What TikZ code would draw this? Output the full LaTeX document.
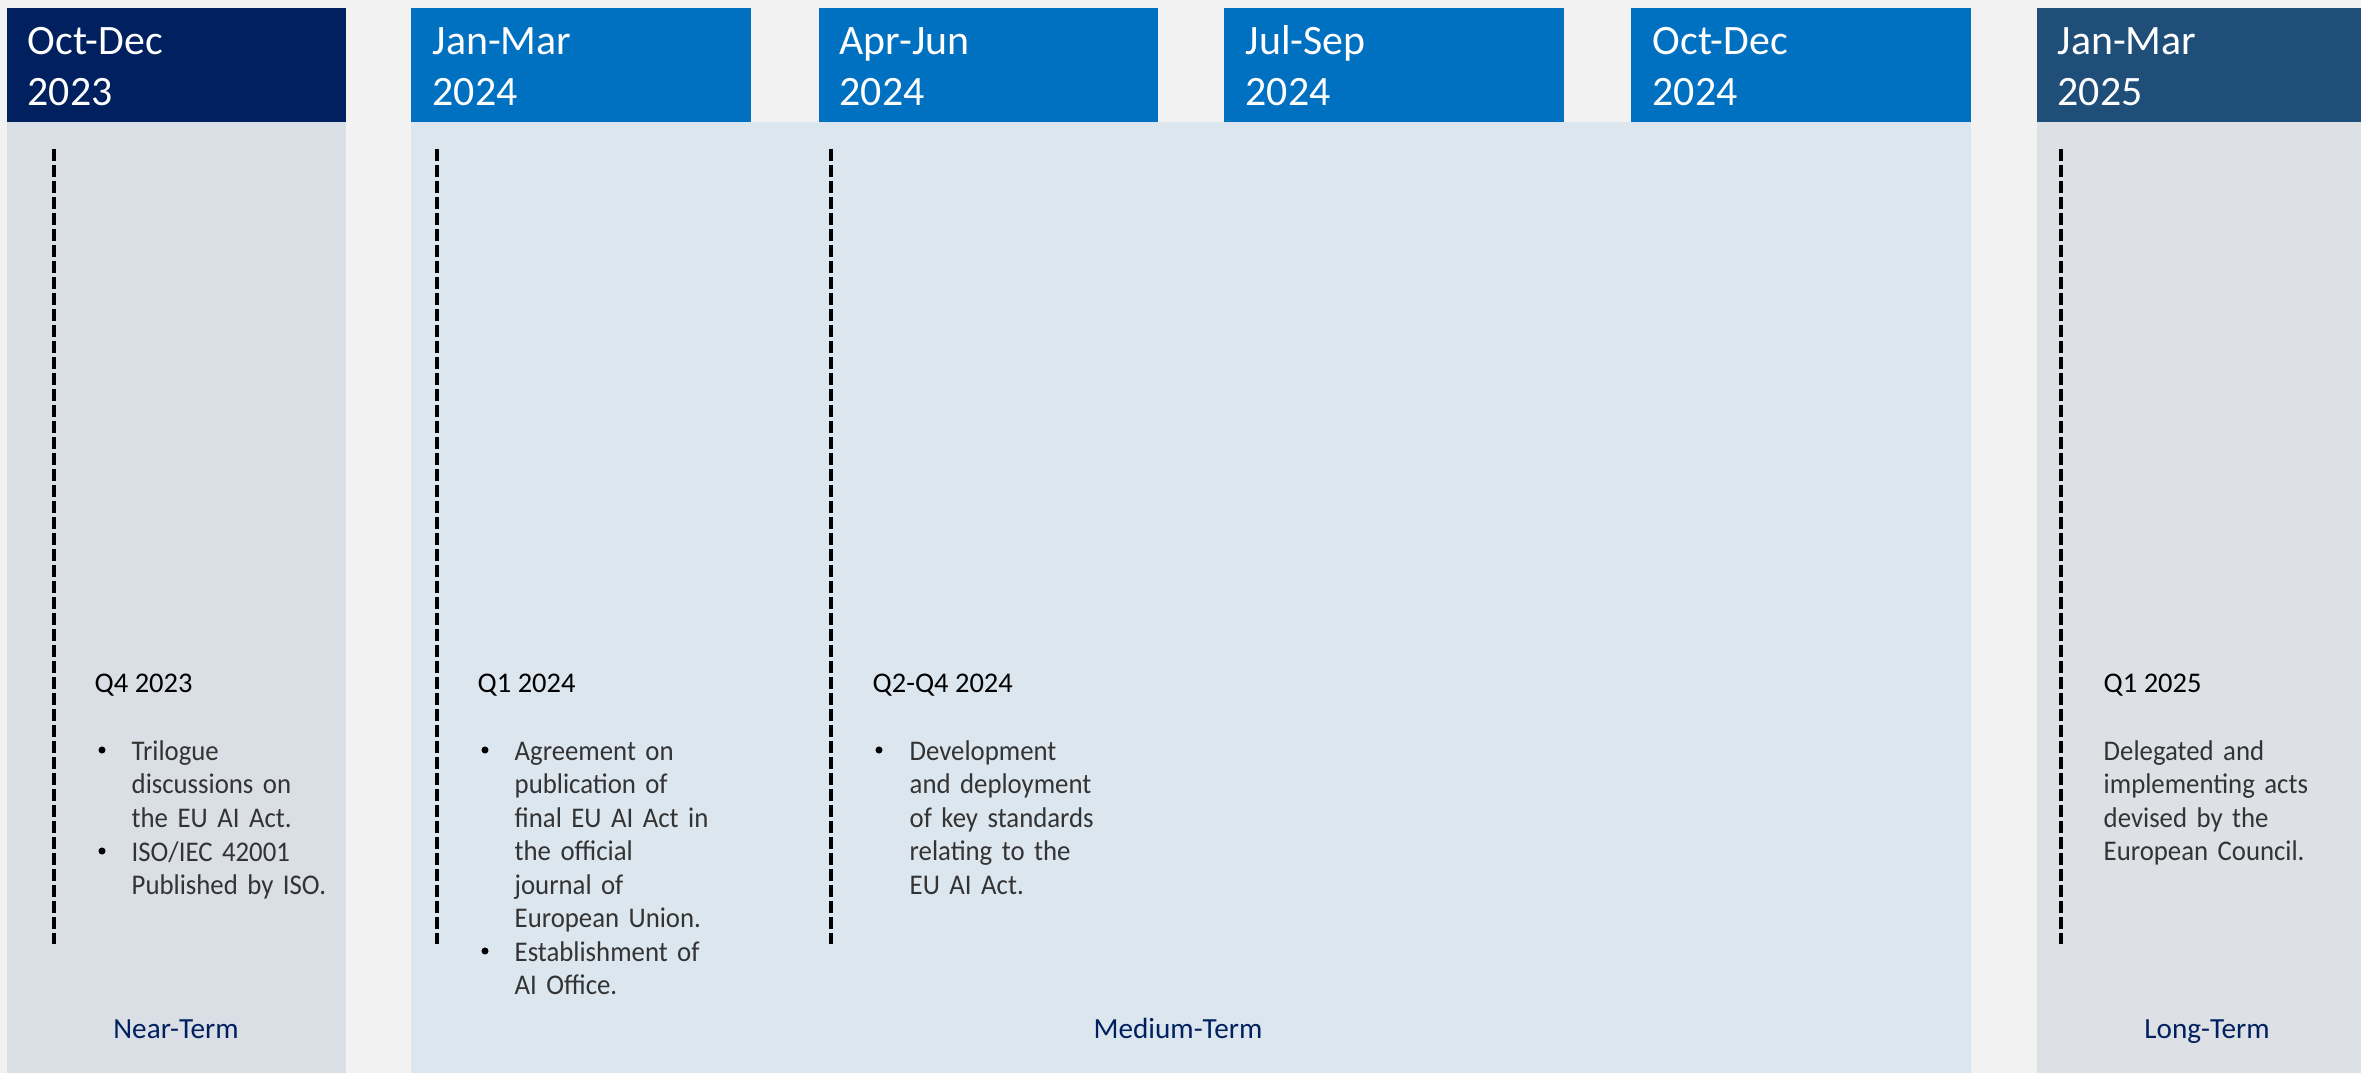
\documentclass[tikz,border=0pt]{standalone}
\usepackage{fontspec}
\setmainfont{Carlito}
\newfontfamily\bodyfont{Carlito}[FakeStretch=0.94]
\definecolor{navy}{HTML}{002060}
\definecolor{qblue}{HTML}{0070C0}
\definecolor{slate}{HTML}{1F4E79}
\definecolor{pnear}{HTML}{DADEE5}
\definecolor{pmed}{HTML}{DCE6EF}
\definecolor{plong}{HTML}{DDE0E5}
\definecolor{paper}{HTML}{F2F2F2}
\begin{document}
\begin{tikzpicture}[x=0.01cm, y=-0.01cm, line join=round,
	hd/.style={anchor=base west, inner sep=0pt, text=white, font=\fontsize{11.9}{14}\selectfont},
	qt/.style={anchor=base west, inner sep=0pt, text=black, font=\fontsize{8.1}{9.5}\selectfont},
	bd/.style={anchor=base west, inner sep=0pt, text width=4cm, align=left, text=black!80, font=\bodyfont\fontsize{8.1}{9.53}\selectfont},
	bul/.style={circle, fill=black, inner sep=0pt, minimum size=2pt},
	term/.style={anchor=base, inner sep=0pt, text=navy, font=\fontsize{8.3}{9.5}\selectfont},
	tl/.style={line width=1.1pt, dash pattern=on 3.4pt off 1.15pt}]
	\def\ytop{8} \def\ymid{122} \def\ybot{1073}
	\fill[paper] (0,0) rectangle (2361,1073);
	\useasboundingbox (0,0) rectangle (2361,1073);
	%panels
	\fill[pnear] (7,\ymid) rectangle (346,\ybot);
	\fill[pmed] (411,\ymid) rectangle (1971,\ybot);
	\fill[plong] (2037,\ymid) rectangle (2361,\ybot);
	%headers
	\fill[navy] (7,\ytop) rectangle (346,\ymid);
	\fill[qblue] (411,\ytop) rectangle (751,\ymid);
	\fill[qblue] (819,\ytop) rectangle (1158,\ymid);
	\fill[qblue] (1224,\ytop) rectangle (1564,\ymid);
	\fill[qblue] (1631,\ytop) rectangle (1971,\ymid);
	\fill[slate] (2037,\ytop) rectangle (2361,\ymid);
	\node[hd] (m1) at (27,55) {Oct-Dec};   \node[hd] (y1) at (27,106) {2023};
	\node[hd] (m2) at (432,55) {Jan-Mar};  \node[hd] (y2) at (432,106) {2024};
	\node[hd] (m3) at (839,55) {Apr-Jun};  \node[hd] (y3) at (839,106) {2024};
	\node[hd] (m4) at (1245,55) {Jul-Sep}; \node[hd] (y4) at (1245,106) {2024};
	\node[hd] (m5) at (1652,55) {Oct-Dec}; \node[hd] (y5) at (1652,106) {2024};
	\node[hd] (m6) at (2057,55) {Jan-Mar}; \node[hd] (y6) at (2057,106) {2025};
	%dashed markers
	\coordinate (d1t) at (54,149);   \coordinate (d1b) at (54,944);
	\coordinate (d2t) at (437,149);  \coordinate (d2b) at (437,944);
	\coordinate (d3t) at (831,149);  \coordinate (d3b) at (831,944);
	\coordinate (d4t) at (2061,149); \coordinate (d4b) at (2061,944);
	\draw[tl] (d1t)--(d1b);
	\draw[tl] (d2t)--(d2b);
	\draw[tl] (d3t)--(d3b);
	\draw[tl] (d4t)--(d4b);
	%Q4 2023
	\node[qt] (q1) at (94,692) {Q4 2023};
	\node[bul] (b11) at (102,750) {};
	\node[bd] (t11) at (131,760) {Trilogue\\discussions on\\the EU AI Act.};
	\node[bul] (b12) at (102,851) {};
	\node[bd] (t12) at (131,861) {ISO/IEC 42001\\Published by ISO.};
	%Q1 2024
	\node[qt] (q2) at (477,692) {Q1 2024};
	\node[bul] (b21) at (485,750) {};
	\node[bd] (t21) at (514,760) {Agreement on\\publication of\\final EU AI Act in\\the official\\journal of\\European Union.};
	\node[bul] (b22) at (485,951) {};
	\node[bd] (t22) at (514,961) {Establishment of\\AI Office.};
	%Q2-Q4 2024
	\node[qt] (q3) at (872,692) {Q2-Q4 2024};
	\node[bul] (b31) at (879,750) {};
	\node[bd] (t31) at (909,760) {Development\\and deployment\\of key standards\\relating to the\\EU AI Act.};
	%Q1 2025
	\node[qt] (q4) at (2103,692) {Q1 2025};
	\node[bd] (t41) at (2103,760) {Delegated and\\implementing acts\\devised by the\\European Council.};
	%terms
	\node[term] (near) at (176,1038) {Near-Term};
	\node[term] (medium) at (1178,1038) {Medium-Term};
	\node[term] (long) at (2207,1038) {Long-Term};
\end{tikzpicture}
\end{document}
